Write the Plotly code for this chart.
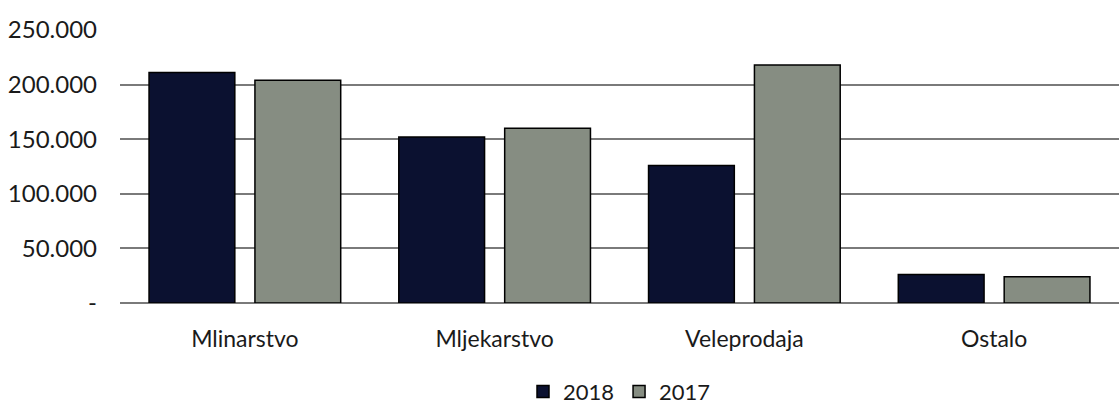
import plotly.graph_objects as go

categories = ["Mlinarstvo", "Mljekarstvo", "Veleprodaja", "Ostalo"]
values_2018 = [211000, 152000, 126000, 26000]
values_2017 = [204000, 160000, 218000, 24000]
tick_vals = [0, 50000, 100000, 150000, 200000, 250000]
tick_text = ["-", "50.000", "100.000", "150.000", "200.000", "250.000"]

font_family = "Lato, Open Sans, sans-serif"

fig = go.Figure()
fig.add_trace(go.Bar(
    name="2018", x=categories, y=values_2018,
    marker=dict(color="#0b1130", line=dict(color="#000000", width=1.5)),
))
fig.add_trace(go.Bar(
    name="2017", x=categories, y=values_2017,
    marker=dict(color="#868d82", line=dict(color="#000000", width=1.5)),
))

fig.update_layout(
    width=1119, height=409,
    margin=dict(l=120, r=0, t=30, b=106, autoexpand=False),
    paper_bgcolor="white", plot_bgcolor="white",
    barmode="group", bargap=0.152, bargroupgap=0.19,
    font=dict(family=font_family, size=23, color="#1a1a1a"),
    showlegend=True,
    legend=dict(orientation="h", x=0.5, xanchor="center", y=-0.325, yanchor="middle",
                font=dict(size=22), itemwidth=30, traceorder="normal"),
    xaxis=dict(showgrid=False, showline=False, ticks="", ticklabelstandoff=20,
               tickfont=dict(size=23), automargin=False),
    yaxis=dict(range=[0, 250000], tickvals=tick_vals, ticktext=tick_text,
               showgrid=True, gridcolor="#7a7a7a", gridwidth=1.5,
               zeroline=True, zerolinecolor="#7a7a7a", zerolinewidth=1.5,
               showline=False, ticks="", ticklabelstandoff=22,
               tickfont=dict(size=24), automargin=False),
)

fig.write_html("out.html")
